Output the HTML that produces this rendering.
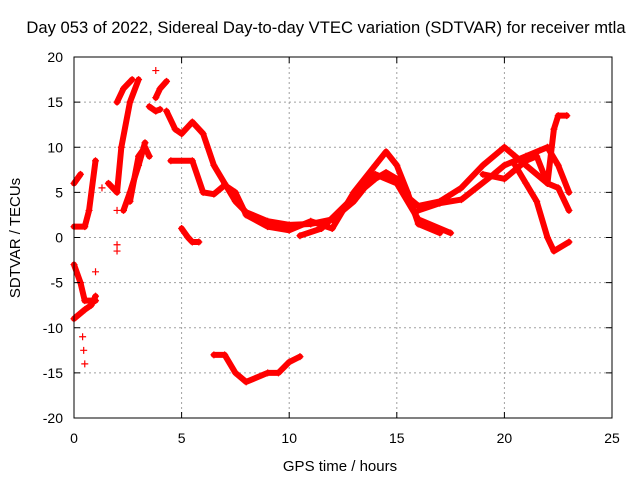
<!DOCTYPE html>
<html><head><meta charset="utf-8"><style>
body{margin:0;background:#fff}
svg{display:block;font-family:"Liberation Sans",sans-serif}
</style></head><body>
<svg id="chart" width="640" height="480" viewBox="0 0 640 480" xmlns="http://www.w3.org/2000/svg">
<rect width="640" height="480" fill="#fff"/>
<text x="326" y="33" font-size="16.6" text-anchor="middle" fill="#000">Day 053 of 2022, Sidereal Day-to-day VTEC variation (SDTVAR) for receiver mtla</text>
<g id="grid"></g>
<g id="marks"></g>
<rect x="74" y="57" width="538" height="361" fill="none" stroke="#000" stroke-width="1"/>
<g id="ticks"></g>
<text x="340" y="471" font-size="15" text-anchor="middle">GPS time / hours</text>
<text transform="translate(20,238) rotate(-90)" font-size="15" text-anchor="middle">SDTVAR / TECUs</text>
</svg>
<script>
const xTicks=[0,5,10,15,20,25];
const yTicks=[-20,-15,-10,-5,0,5,10,15,20];
const trackA=[[4.3,14],[4.7,12],[5,11.5],[5.5,12.8],[6,11.5],[6.5,8],[7,6],[7.5,4],[8,2.8],[9,1.8],[10,1.4],[11,1.5],[12,2],[13,4],[13.5,5.5],[14,6.5],[14.5,7.2],[15,6.5],[15.5,4.5],[16,3.5],[17,4],[18,5.5],[19,8],[20,10],[20.5,9],[21,8],[22,6],[22.5,5.5],[23,3]];
const trackB=[[4.5,8.5],[5.5,8.5],[6,5],[6.5,4.8],[7,5.8],[7.5,5],[8,2.5],[9,1.2],[10,0.8],[11,1.8],[12,1],[13,5],[14,8],[14.5,9.5],[15,8],[15.5,5],[16,1.5],[17,0.5]];
const trackC=[[10.5,0.2],[11.5,1],[13,4.5],[14,7],[15,6],[16,2],[17.5,0.5]];
const trackD=[[16,3],[17,3.8],[18,4.2],[19.5,7],[20,8],[21,9],[22,10],[22.5,8],[23,5]];
const trackE=[[19,7],[20,6.5],[21,8.5],[21.5,9],[22,6],[22.3,12],[22.5,13.5],[22.9,13.5]];
const trackF=[[20.5,8],[21,6],[21.5,4],[22,0],[22.3,-1.5],[23,-0.5]];
const trackG=[[6.5,-13],[7,-13],[7.5,-15],[8,-16],[9,-15],[9.5,-15],[10,-13.8],[10.5,-13.2]];
const trackH=[[5,1],[5.3,0],[5.5,-0.5],[5.8,-0.5]];
const trackI=[[0,6],[0.3,7]];
const trackJ=[[0,1.2],[0.5,1.2],[0.7,3],[1,8.5]];
const trackK=[[0,-3],[0.3,-5],[0.5,-7],[1,-7]];
const trackL=[[0,-9],[0.5,-8],[0.8,-7.5],[1,-6.5]];
const trackM=[[1.6,6],[2,5],[2.2,10],[2.6,15],[3,17.5]];
const trackN=[[2,15],[2.3,16.5],[2.7,17.5]];
const trackO=[[2.3,3],[2.6,5],[3,8],[3.3,10.5]];
const trackP=[[2.6,4],[3,9],[3.3,10],[3.5,9]];
const trackQ=[[3.5,14.5],[3.8,14],[4,14.2]];
const trackR=[[3.8,15.5],[4,16.5],[4.3,17.3]];
const strays=[[1,-3.8],[3.8,18.5],[0.4,-11],[0.45,-12.5],[0.5,-14],[2,-1.5],[2,-0.8],[1.3,5.5],[2,3]];
const tracks=[trackA,trackB,trackC,trackD,trackE,trackF,trackG,trackH,trackI,trackJ,trackK,trackL,trackM,trackN,trackO,trackP,trackQ,trackR];
const X=h=>74+h*538/25, Y=v=>237.5-v*361/40;
const NS='http://www.w3.org/2000/svg';
const grid=document.getElementById('grid'),ticks=document.getElementById('ticks'),marks=document.getElementById('marks');
function mk(t,a,p){const e=document.createElementNS(NS,t);for(const k in a)e.setAttribute(k,a[k]);p.appendChild(e);return e;}
xTicks.forEach(t=>{const x=X(t);
 if(t>0&&t<25){const g=mk('line',{x1:x,y1:57,x2:x,y2:418,stroke:'#a0a0a0','stroke-dasharray':'2,3'},grid);
 
 }
 mk('line',{x1:x,y1:418,x2:x,y2:412,stroke:'#000'},ticks);mk('line',{x1:x,y1:57,x2:x,y2:63,stroke:'#000'},ticks);
 const l=mk('text',{x:x,y:443,'font-size':14,'text-anchor':'middle'},ticks);l.textContent=t;
 
 });
yTicks.forEach(t=>{const y=Y(t);
 if(t>-20&&t<20){const g=mk('line',{x1:74,y1:y,x2:612,y2:y,stroke:'#a0a0a0','stroke-dasharray':'2,3'},grid);
 
 }
 mk('line',{x1:74,y1:y,x2:80,y2:y,stroke:'#000'},ticks);mk('line',{x1:612,y1:y,x2:606,y2:y,stroke:'#000'},ticks);
 const l=mk('text',{x:63,y:y+5,'font-size':14,'text-anchor':'end'},ticks);l.textContent=t;
 
 });
function plus(h,v){const x=X(h),y=Y(v);const p=mk('path',{d:`M${x-3.5} ${y}h7M${x} ${y-3.5}v7`,stroke:'#f00','stroke-width':1.2},marks);
 
 }
tracks.forEach(tr=>{const pl=mk('polyline',{points:tr.map(p=>X(p[0])+','+Y(p[1])).join(' '),fill:'none',stroke:'#f00','stroke-width':6,'stroke-linejoin':'round','stroke-linecap':'round'},marks);
 
 
 tr.forEach(p=>plus(p[0],p[1]));});
strays.forEach(p=>plus(p[0],p[1]));
</script>
</body></html>
